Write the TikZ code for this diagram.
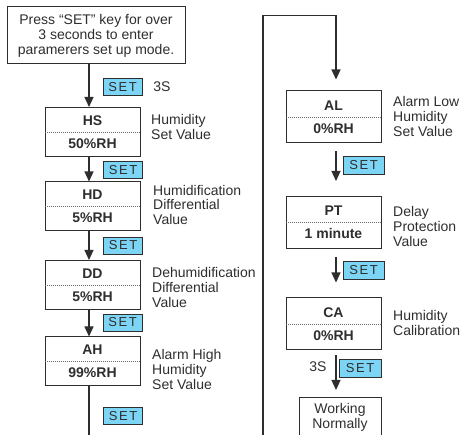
\documentclass[tikz,border=0pt]{standalone}
\usepackage{fontspec}
\setmainfont{Liberation Sans}
\usetikzlibrary{arrows.meta,calc}
\definecolor{setblue}{HTML}{7DD5F6}
\definecolor{ink}{HTML}{2E2E2E}
\newcommand{\SETtxt}{S\kern1.6pt E\kern1.6pt T}
\begin{document}
\begin{tikzpicture}
		[x=1pt,y=-1pt,
		every node/.style={text=ink,font=\fontsize{14}{15}\selectfont},
		startbox/.style={draw=ink,line width=1pt,minimum width=178pt,minimum height=57pt,inner sep=0pt,align=center},
		param/.style={draw=ink,line width=1pt,minimum width=95pt,minimum height=49pt,inner sep=0pt,align=center,font=\fontsize{14}{15}\bfseries\selectfont},
		workbox/.style={draw=ink,line width=1pt,minimum width=82pt,minimum height=40pt,inner sep=0pt,align=center},
		settag/.style={draw=ink,fill=setblue,line width=0.8pt,minimum width=39pt,minimum height=17pt,inner sep=0pt,font=\fontsize{13}{13}\selectfont},
		desc/.style={anchor=west,align=left,inner sep=0pt},
		dotline/.style={draw=ink!70,line width=0.6pt,dash pattern=on 1pt off 1pt},
		flow/.style={draw=ink,line width=1.2pt,-{Triangle[width=9pt,length=10pt]}},
		wire/.style={draw=ink,line width=1.2pt}]
		\clip (0,0) rectangle (464,435);
		% left column
		\node[startbox] (start) at (96,35.5) {Press “SET” key for over\\3 seconds to enter\\paramerers set up mode.};
		\node[param] (HS) at (92.5,132) {HS\\[8pt]50\%RH};
		\node[param] (HD) at (92.5,206.5) {HD\\[8pt]5\%RH};
		\node[param] (DD) at (92.5,285) {DD\\[8pt]5\%RH};
		\node[param] (AH) at (92.5,361.5) {AH\\[8pt]99\%RH};
		\foreach \b in {HS,HD,DD,AH}
			\draw[dotline] (\b.west) -- (\b.east);
		\coordinate (cutL) at (89,440);
		\draw[flow] ($(start.south)+(-7,0)$) -- ($(HS.north)+(-3.5,0)$);
		\draw[flow] ($(HS.south)+(-3.5,0)$) -- ($(HD.north)+(-3.5,0)$);
		\draw[flow] ($(HD.south)+(-3.5,0)$) -- ($(DD.north)+(-3.5,0)$);
		\draw[flow] ($(DD.south)+(-3.5,0)$) -- ($(AH.north)+(-3.5,0)$);
		\draw[wire] ($(AH.south)+(-3.5,0)$) -- (cutL);
		\node[settag] (set1) at (122.5,87) {\SETtxt};
		\node (hold1) at (162,87) {3S};
		\node[settag] (set2) at (123,170) {\SETtxt};
		\node[settag] (set3) at (123,245.5) {\SETtxt};
		\node[settag] (set4) at (122.5,322.5) {\SETtxt};
		\node[settag] (set5) at (123,416) {\SETtxt};
		\node[desc] (HSd) at (151,127) {Humidity\\Set Value};
		\node[desc] (HDd) at (153,205) {Humidification\\Differential\\Value};
		\node[desc] (DDd) at (152,287) {Dehumidification\\Differential\\Value};
		\node[desc] (AHd) at (152,369) {Alarm High\\Humidity\\Set Value};
		% right column
		\node[param,minimum height=52pt] (AL) at (333.5,117) {AL\\[8pt]0\%RH};
		\node[param,minimum height=52pt] (PT) at (333.5,222.5) {PT\\[8pt]1 minute};
		\node[param,minimum height=52pt] (CA) at (333.5,324) {CA\\[8pt]0\%RH};
		\foreach \b in {AL,PT,CA}
			\draw[dotline] (\b.west) -- (\b.east);
		\node[workbox,anchor=north] (work) at (340,397) {Working\\Normally};
		\coordinate (cutR) at (263,440);
		\draw[flow] (cutR) |- ($(AL.north)+(2.5,-75)$) -- ($(AL.north)+(2.5,-11)$);
		\draw[flow] ($(AL.south)+(2.5,8)$) -- ($(PT.north)+(2.5,-15)$);
		\draw[flow] ($(PT.south)+(2.5,8)$) -- ($(CA.north)+(2.5,-15)$);
		\draw[flow] ($(CA.south)+(2.5,5)$) -- ($(work.north)+(-4,-7)$);
		\node[settag,minimum width=41pt,minimum height=18pt] (set6) at (363.5,165.5) {\SETtxt};
		\node[settag,minimum width=41pt,minimum height=18pt] (set7) at (363.5,270) {\SETtxt};
		\node[settag,minimum width=42pt,minimum height=18pt] (set8) at (360,368) {\SETtxt};
		\node (hold2) at (318,367) {3S};
		\node[desc] (ALd) at (393,117) {Alarm Low\\Humidity\\Set Value};
		\node[desc] (PTd) at (393,226) {Delay\\Protection\\Value};
		\node[desc] (CAd) at (393,323) {Humidity\\Calibration};
	\end{tikzpicture}
\end{document}
